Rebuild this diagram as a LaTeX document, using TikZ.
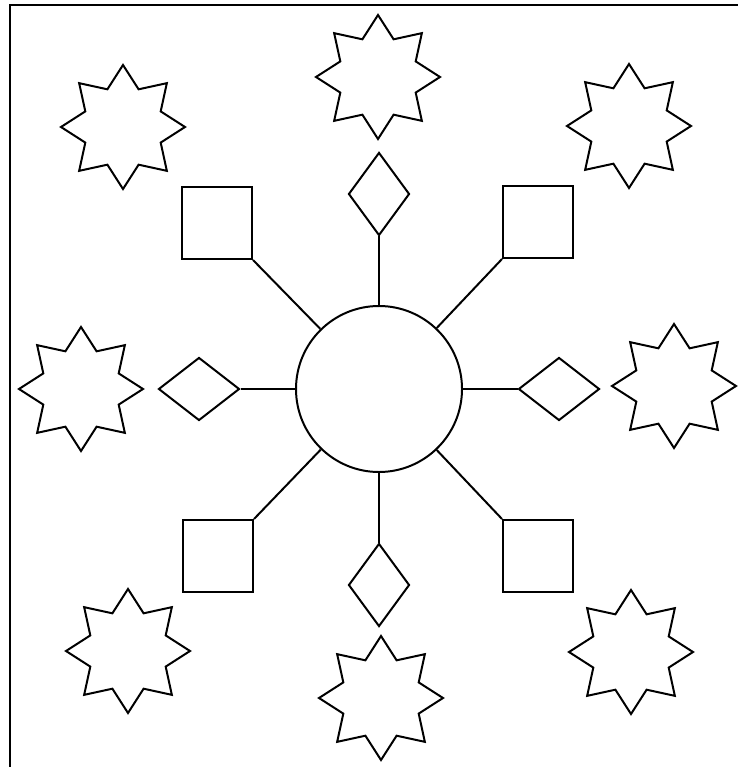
\documentclass[tikz,border=0pt]{standalone}
\usetikzlibrary{shapes.geometric}

\begin{document}
\begin{tikzpicture}[x=0.03cm, y=-0.03cm, line width=1.7pt,
  hub/.style={draw, circle, inner sep=0pt, minimum size=4.98cm},
  gemv/.style={draw, diamond, inner sep=0pt, minimum width=1.83cm, minimum height=2.49cm},
  gemh/.style={draw, diamond, inner sep=0pt, minimum width=2.43cm, minimum height=1.89cm},
  box/.style={draw, rectangle, inner sep=0pt, minimum width=2.1cm, minimum height=2.16cm},
  burst/.style={draw, star, star points=8, star point ratio=1.52, inner sep=0pt, minimum size=3.72cm}]
  \useasboundingbox (0,0) rectangle (738,767);

  % frame (cut off at right and bottom)
  \draw (10,767) -- (10,5) -- (738,5);

  % hub
  \node[hub] (hub) at (379,389) {};

  % diamonds
  \node[gemv] (gtop) at (379,194) {};
  \node[gemv] (gbot) at (379,585) {};
  \node[gemh] (gleft) at (199,389) {};
  \node[gemh] (gright) at (559,389) {};

  % squares
  \node[box] (bnw) at (217,223) {};
  \node[box] (bne) at (538,222) {};
  \node[box] (bsw) at (218,556) {};
  \node[box] (bse) at (538,556) {};

  % spokes
  \draw (hub) -- (gtop);
  \draw (hub) -- (gbot);
  \draw (hub) -- (gleft);
  \draw (hub) -- (gright);
  \draw (hub) -- (bnw.south east);
  \draw (hub) -- (bne.south west);
  \draw (hub) -- (bsw.north east);
  \draw (hub) -- (bse.north west);

  % stars
  \node[burst] (sn) at (378,77) {};
  \node[burst] (snw) at (123,127) {};
  \node[burst] (sne) at (629,126) {};
  \node[burst] (sw) at (81,389) {};
  \node[burst] (se) at (674,386) {};
  \node[burst] (ssw) at (128,651) {};
  \node[burst] (ss) at (381,698) {};
  \node[burst] (sse) at (631,652) {};
\end{tikzpicture}
\end{document}
